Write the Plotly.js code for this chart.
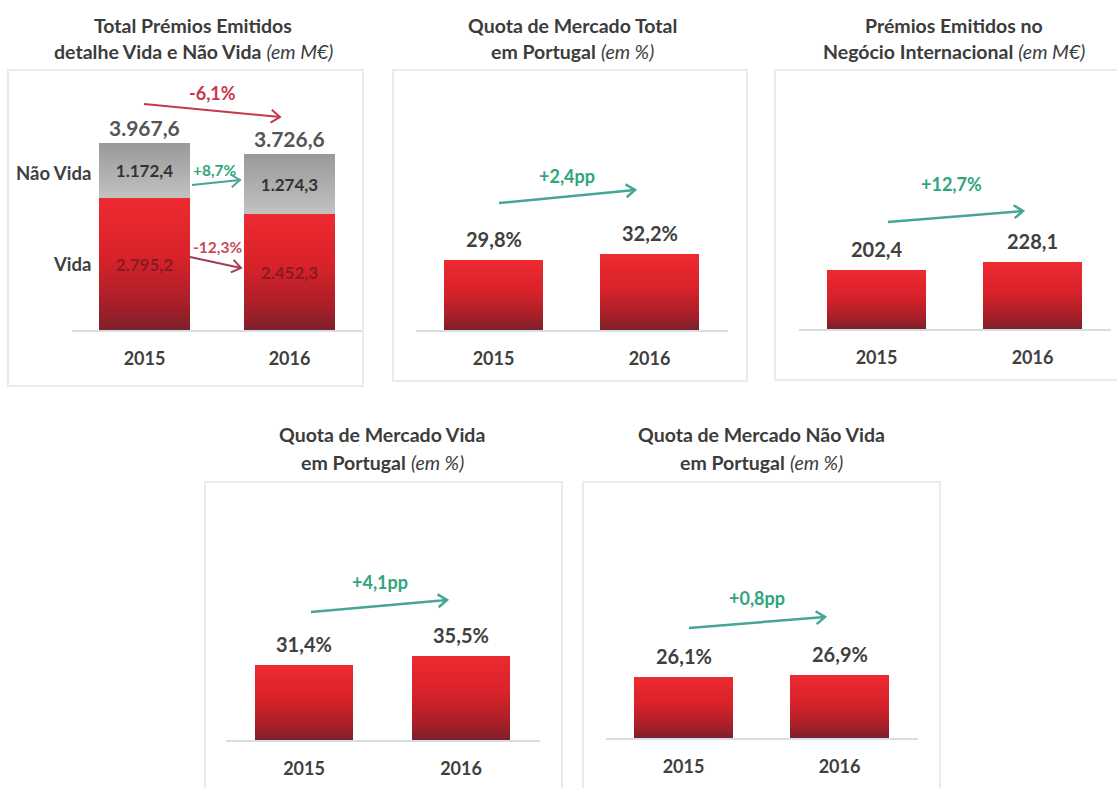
<!DOCTYPE html>
<html>
<head>
<meta charset="utf-8">
<script src="https://cdn.plot.ly/plotly-3.0.1.min.js"></script>
<style>html,body{margin:0;padding:0;background:#fff;}#chart{width:1117px;height:788px;}</style>
</head>
<body>
<div id="chart"></div>
<script>
// ---------- data ----------
const years = ['2015', '2016'];
const vida = [2795.2, 2452.3];
const naoVida = [1172.4, 1274.3];
const totals = [3967.6, 3726.6];
const quotaTotal = [29.8, 32.2];
const internacional = [202.4, 228.1];
const quotaVida = [31.4, 35.5];
const quotaNaoVida = [26.1, 26.9];
const seriesLabels = ['Não Vida', 'Vida'];
const changeTotal = '-6,1%';
const changeNaoVida = '+8,7%';
const changeVida = '-12,3%';
const changeQuotaTotal = '+2,4pp';
const changeInternacional = '+12,7%';
const changeQuotaVida = '+4,1pp';
const changeQuotaNaoVida = '+0,8pp';
const titles = [
  ['Total Prémios Emitidos', '<b>detalhe Vida e Não Vida</b> <i>(em M€)</i>'],
  ['Quota de Mercado Total', '<b>em Portugal</b> <i>(em %)</i>'],
  ['Prémios Emitidos no', '<b>Negócio Internacional</b> <i>(em M€)</i>'],
  ['Quota de Mercado Vida', '<b>em Portugal</b> <i>(em %)</i>'],
  ['Quota de Mercado Não Vida', '<b>em Portugal</b> <i>(em %)</i>']
];

// ---------- helpers ----------
const W = 1117, H = 788;
const px = x => x / W;
const py = y => 1 - y / H;
const FONT = 'Lato, "Open Sans", sans-serif';
const DARK = '#404040';
const RED = '#c8364b';
const GREEN = '#2fa57c';
const TEAL = '#45a596';

function fmt(v) {
  let s = v.toFixed(1);
  let [i, d] = s.split('.');
  i = i.replace(/\B(?=(\d{3})+(?!\d))/g, '.');
  return i + ',' + d;
}

const RED_BAR = '#d8242b';
const GRAY_BAR = '#a8a8a8';

// ---------- traces ----------
const data = [
  {type: 'bar', x: years, y: vida, xaxis: 'x', yaxis: 'y', name: seriesLabels[1],
   marker: {color: RED_BAR}, texttemplate: '%{y:,.1f}', textposition: 'inside',
   insidetextanchor: 'middle', textangle: 0, constraintext: 'none',
   insidetextfont: {family: FONT, size: 17, color: '#8a1a22', weight: 'bold'}, hoverinfo: 'none'},
  {type: 'bar', x: years, y: naoVida, xaxis: 'x', yaxis: 'y', name: seriesLabels[0],
   marker: {color: GRAY_BAR}, texttemplate: '%{y:,.1f}', textposition: 'inside',
   insidetextanchor: 'middle', textangle: 0, constraintext: 'none',
   insidetextfont: {family: FONT, size: 17, color: '#333333', weight: 'bold'}, hoverinfo: 'none'},
  {type: 'bar', x: years, y: quotaTotal, xaxis: 'x2', yaxis: 'y2', marker: {color: RED_BAR}, hoverinfo: 'none'},
  {type: 'bar', x: years, y: internacional, xaxis: 'x3', yaxis: 'y3', marker: {color: RED_BAR}, hoverinfo: 'none'},
  {type: 'bar', x: years, y: quotaVida, xaxis: 'x4', yaxis: 'y4', marker: {color: RED_BAR}, hoverinfo: 'none'},
  {type: 'bar', x: years, y: quotaNaoVida, xaxis: 'x5', yaxis: 'y5', marker: {color: RED_BAR}, hoverinfo: 'none'}
];

// ---------- layout ----------
function xax(x0, x1, anchor) {
  return {domain: [px(x0), px(x1)], anchor: anchor, type: 'category', range: [-0.5, 1.5],
    autorange: false, showline: true,
    linecolor: '#d5dde6', linewidth: 1.5, ticks: '', showgrid: false, zeroline: false,
    tickfont: {family: FONT, size: 18, color: DARK, weight: 'bold'}, ticklabelstandoff: 12,
    fixedrange: true};
}
function yax(top, base, range, anchor) {
  return {domain: [py(base), py(top)], anchor: anchor, range: range, autorange: false, visible: false,
    showgrid: false, zeroline: false, fixedrange: true};
}

const annotations = [];
const shapes = [];

function note(text, x, y, size, color, extra) {
  annotations.push(Object.assign({text: text, x: px(x), y: py(y), xref: 'paper', yref: 'paper',
    showarrow: false, xanchor: 'center', yanchor: 'middle',
    font: {family: FONT, size: size, color: color, weight: 'bold'}}, extra || {}));
}
function arrow(x0, y0, x1, y1, color, width) {
  shapes.push({type: 'line', xref: 'paper', yref: 'paper', x0: px(x0), y0: py(y0), x1: px(x1), y1: py(y1),
    line: {color: color, width: width}});
  const ang = Math.atan2(y1 - y0, x1 - x0);
  const L = 11, a = Math.PI * 0.2;
  const p1 = [x1 - L * Math.cos(ang - a), y1 - L * Math.sin(ang - a)];
  const p2 = [x1 - L * Math.cos(ang + a), y1 - L * Math.sin(ang + a)];
  shapes.push({type: 'path', xref: 'paper', yref: 'paper',
    path: `M ${px(p1[0])} ${py(p1[1])} L ${px(x1)} ${py(y1)} L ${px(p2[0])} ${py(p2[1])}`,
    line: {color: color, width: width}});
}
function box(x0, y0, x1, y1) {
  shapes.push({type: 'rect', xref: 'paper', yref: 'paper', x0: px(x0), y0: py(y0), x1: px(x1), y1: py(y1),
    line: {color: '#e7ebef', width: 2}, layer: 'below'});
}

// panel boxes
box(8, 70, 363, 386);
box(393, 70, 747, 381);
box(775, 70, 1125, 380);
box(205, 482, 562, 795);
box(583, 482, 940, 795);

// titles
const TSIZE = 19.5;
const titlePos = [[193, 25, 51], [572, 25, 52], [954, 25, 51], [382, 435, 462], [761, 435, 462]];
titles.forEach((t, i) => {
  const [cx, y1, y2] = titlePos[i];
  note(t[0], cx, y1, TSIZE, '#3c3c3c');
  note(t[1], cx, y2, TSIZE, '#3c3c3c', {font: {family: FONT, size: TSIZE, color: '#3c3c3c', weight: 'normal'}});
});

// value labels above bars (data coordinates, category index)
function valueLabels(vals, xr, yr, suffix, shift, size, color) {
  vals.forEach((v, i) => {
    annotations.push({text: '<b>' + fmt(v) + suffix + '</b>', x: i, y: v, xref: xr, yref: yr,
      showarrow: false, yanchor: 'bottom', xanchor: 'center', yshift: shift,
      font: {family: FONT, size: size, color: color}});
  });
}
valueLabels(totals, 'x', 'y', '', 1, 21, '#555555');
valueLabels(quotaTotal, 'x2', 'y2', '%', 7, 20, DARK);
valueLabels(internacional, 'x3', 'y3', '', 7, 20, DARK);
valueLabels(quotaVida, 'x4', 'y4', '%', 7, 20, DARK);
valueLabels(quotaNaoVida, 'x5', 'y5', '%', 7, 20, DARK);

// series labels panel 1
note(seriesLabels[0], 93, 173, 18.5, DARK, {xanchor: 'right'});
note(seriesLabels[1], 93, 264, 18.5, DARK, {xanchor: 'right'});

// change labels + arrows
note(changeTotal, 212, 93, 18, RED);
arrow(144, 104, 280, 117, '#c23a4c', 2);
note(changeNaoVida, 215, 170, 15.5, GREEN);
arrow(192, 185, 240, 180, TEAL, 2);
note(changeVida, 217, 247, 15.5, '#c9475a');
arrow(190, 257, 241, 268, '#a83a50', 2);
note(changeQuotaTotal, 567, 176, 18, GREEN);
arrow(499, 203, 635, 190, TEAL, 2.5);
note(changeInternacional, 951, 184, 18, GREEN);
arrow(888, 222, 1023, 211, TEAL, 2.5);
note(changeQuotaVida, 380, 582, 18, GREEN);
arrow(311, 612, 447, 600, TEAL, 2.5);
note(changeQuotaNaoVida, 757, 598, 18, GREEN);
arrow(689, 628, 825, 617, TEAL, 2.5);

const layout = {
  width: W, height: H, margin: {l: 0, r: 0, t: 0, b: 0},
  paper_bgcolor: '#ffffff', plot_bgcolor: 'rgba(0,0,0,0)',
  showlegend: false, barmode: 'stack', bargap: 0.37, separators: ',.',
  font: {family: FONT, color: DARK},
  xaxis: xax(72, 362, 'y'), yaxis: yax(113, 330, [0, 4600], 'x'),
  xaxis2: xax(415.5, 727.5, 'y2'), yaxis2: yax(189, 330, [0, 60], 'x2'),
  xaxis3: xax(798.5, 1110.5, 'y3'), yaxis3: yax(188.8, 329, [0, 480], 'x3'),
  xaxis4: xax(225.5, 539.5, 'y4'), yaxis4: yax(597.2, 740, [0, 60], 'x4'),
  xaxis5: xax(605.5, 917.5, 'y5'), yaxis5: yax(597.6, 738, [0, 60], 'x5'),
  annotations: annotations, shapes: shapes
};

Plotly.newPlot('chart', data, layout, {staticPlot: true, displayModeBar: false}).then(gd => {
  const svg = gd.querySelector('.main-svg');
  const NS = 'http://www.w3.org/2000/svg';
  const defs = document.createElementNS(NS, 'defs');
  svg.insertBefore(defs, svg.firstChild);
  function grad(id, stops) {
    const g = document.createElementNS(NS, 'linearGradient');
    g.setAttribute('id', id); g.setAttribute('x1', '0'); g.setAttribute('y1', '0');
    g.setAttribute('x2', '0'); g.setAttribute('y2', '1');
    stops.forEach(([o, c]) => {
      const s = document.createElementNS(NS, 'stop');
      s.setAttribute('offset', o); s.setAttribute('stop-color', c); g.appendChild(s);
    });
    defs.appendChild(g);
  }
  grad('gRed', [['0', '#ee2a31'], ['0.45', '#d8222a'], ['0.8', '#a81f29'], ['1', '#7c2029']]);
  grad('gGray', [['0', '#999999'], ['1', '#c2c2c2']]);
  gd.querySelectorAll('.bars .point path').forEach(p => {
    const f = (p.style.fill || '').replace(/\s/g, '');
    if (f === 'rgb(168,168,168)') p.style.fill = 'url(#gGray)';
    else if (f) p.style.fill = 'url(#gRed)';
  });
});
</script>
</body>
</html>
